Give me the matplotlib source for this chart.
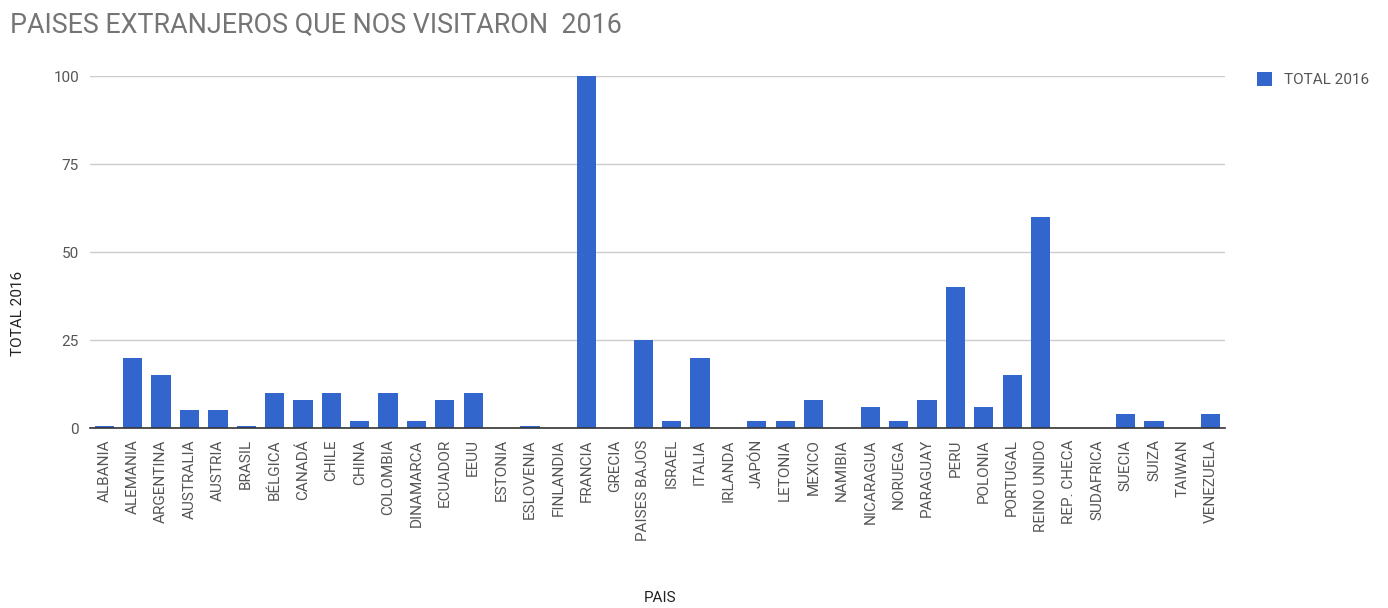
import matplotlib
matplotlib.use("Agg")
import matplotlib.pyplot as plt
import numpy as np

paises = ["ALBANIA", "ALEMANIA", "ARGENTINA", "AUSTRALIA", "AUSTRIA", "BRASIL",
          "BÉLGICA", "CANADÁ", "CHILE", "CHINA", "COLOMBIA", "DINAMARCA",
          "ECUADOR", "EEUU", "ESTONIA", "ESLOVENIA", "FINLANDIA", "FRANCIA",
          "GRECIA", "PAISES BAJOS", "ISRAEL", "ITALIA", "IRLANDA", "JAPÓN",
          "LETONIA", "MEXICO", "NAMIBIA", "NICARAGUA", "NORUEGA", "PARAGUAY",
          "PERU", "POLONIA", "PORTUGAL", "REINO UNIDO", "REP. CHECA",
          "SUDAFRICA", "SUECIA", "SUIZA", "TAIWAN", "VENEZUELA"]
total_2016 = [0.5, 20, 15, 5, 5, 0.5,
              10, 8, 10, 2, 10, 2,
              8, 10, 0, 0.5, 0, 100,
              0, 25, 2, 20, 0, 2,
              2, 8, 0, 6, 2, 8,
              40, 6, 15, 60, 0,
              0, 4, 2, 0, 4]
yticks = [0, 25, 50, 75, 100]

plt.rcParams['font.family'] = ['Roboto', 'DejaVu Sans']
gray = '#555555'

W, H = 1388, 608
fig = plt.figure(figsize=(W / 100, H / 100), dpi=100)
ax = fig.add_axes([0.065, 0.296, 0.8175, 0.579])

x = np.arange(len(paises))
ax.bar(x, total_2016, width=0.68, color='#3366CC', label='TOTAL 2016', zorder=3)

ax.set_xlim(-0.5, len(paises) - 0.5)
ax.set_ylim(0, 100)
ax.set_yticks(yticks)
ax.set_yticklabels([str(v) for v in yticks], color=gray, fontsize=11)
ax.set_xticks(x)
ax.set_xticklabels(paises, rotation=90, color=gray, fontsize=11)
ax.tick_params(axis='both', length=0, pad=8)
ax.yaxis.grid(True, color='#cccccc', linewidth=1, zorder=0)
for s in ['top', 'right', 'left']:
    ax.spines[s].set_visible(False)
ax.spines['bottom'].set_color('#333333')
ax.spines['bottom'].set_linewidth(1.2)
ax.spines['bottom'].set_zorder(4)

fig.text(18 / W, 1 - 313 / H, 'TOTAL 2016', rotation=90, fontsize=11,
         color='#222222', ha='center', va='center')
fig.text(660 / W, 1 - 598 / H, 'PAIS', fontsize=11, color='#222222',
         ha='center', va='center')

fig.text(10 / W, 1 - 25 / H, 'PAISES EXTRANJEROS QUE NOS VISITARON  2016',
         fontsize=19.4, color='#757575', va='center', ha='left')

leg = ax.legend(loc='upper left', bbox_to_anchor=(1.016, 1.05), frameon=False,
                fontsize=11, handlelength=1.0, handleheight=1.0, handletextpad=0.8)
for t in leg.get_texts():
    t.set_color(gray)

fig.savefig('out.png', dpi=100, facecolor='white')
